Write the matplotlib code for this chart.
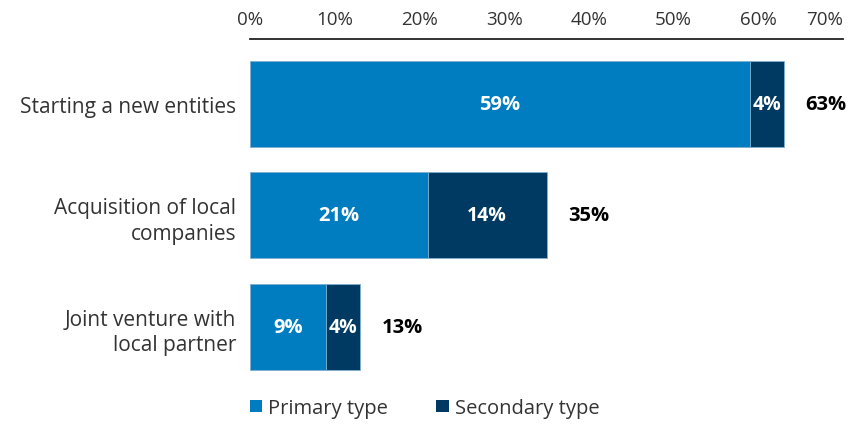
import matplotlib
matplotlib.use("Agg")
import matplotlib.pyplot as plt
from matplotlib.patches import Patch

# data
categories = ["Starting a new entities", "Acquisition of local\ncompanies", "Joint venture with\nlocal partner"]
primary = [59, 21, 9]
secondary = [4, 14, 4]
ticks = [0, 10, 20, 30, 40, 50, 60, 70]
tick_labels = ["0%", "10%", "20%", "30%", "40%", "50%", "60%", "70%"]
series_names = ["Primary type", "Secondary type"]

c_prim = "#007cc0"
c_sec = "#003a63"

plt.rcParams["font.family"] = ["Open Sans", "DejaVu Sans"]

fig = plt.figure(figsize=(8.65, 4.27), dpi=100)
ax = fig.add_axes([250 / 865, 1 - 385 / 427, 593 / 865, 345 / 427])

y = list(range(len(categories)))
h = 0.77
ax.barh(y, primary, height=h, color=c_prim, edgecolor="#7fb0d0", linewidth=0.6)
ax.barh(y, secondary, left=primary, height=h, color=c_sec, edgecolor="#7fb0d0", linewidth=0.6)

for i in y:
    p, s = primary[i], secondary[i]
    ax.text(p / 2, i, f"{p}%", ha="center", va="center", color="white",
            fontsize=14.5, fontweight="bold")
    ax.text(p + s / 2, i, f"{s}%", ha="center", va="center", color="white",
            fontsize=14, fontweight="bold")
    ax.text(p + s + 2.6, i, f"{p + s}%", ha="left", va="center", color="black",
            fontsize=14.5, fontweight="bold")

ax.set_xlim(0, 70)
ax.set_ylim(2.51, -0.58)
ax.xaxis.tick_top()
ax.set_xticks(ticks)
ax.set_xticklabels(tick_labels, fontsize=13.5, color="#333333")
ax.get_xticklabels()[-1].set_ha("right")
ax.tick_params(axis="x", length=0, pad=8)

ax.set_yticks(y)
ax.set_yticklabels(categories, fontsize=15, color="#333333", ha="right",
                   multialignment="right", linespacing=1.3)
ax.tick_params(axis="y", length=0, pad=10)

for side in ["right", "bottom", "left"]:
    ax.spines[side].set_visible(False)
ax.spines["top"].set_linewidth(1.3)
ax.spines["top"].set_color("#222222")

handles = [Patch(facecolor=c_prim), Patch(facecolor=c_sec)]
fig.legend(handles, series_names, loc="center left", bbox_to_anchor=(232 / 865, 1 - 409 / 427),
           ncol=2, frameon=False, fontsize=14.5, handlelength=0.6, handleheight=0.6,
           handletextpad=0.3, columnspacing=2.4, labelcolor="#333333")

fig.savefig("out.png", dpi=100)
